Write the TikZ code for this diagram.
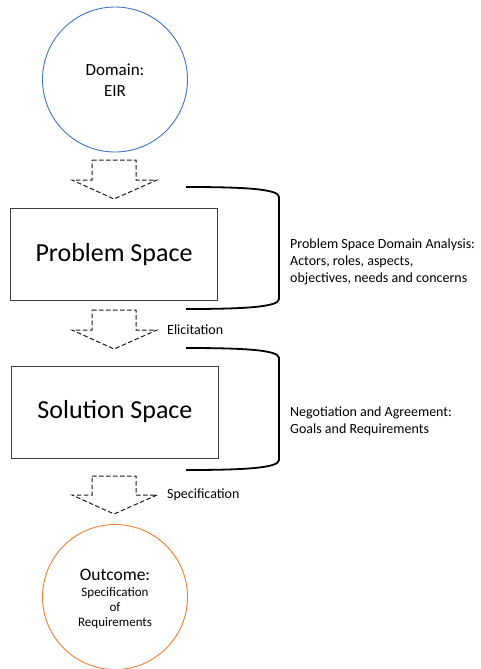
\documentclass[tikz,border=0pt]{standalone}
\usepackage{fontspec}
\setmainfont{Carlito}
\definecolor{cblue}{HTML}{4472C4}
\definecolor{corange}{HTML}{ED7D31}
\definecolor{boxgray}{HTML}{404040}
\begin{document}
\begin{tikzpicture}[x=1pt,y=-1pt,
  circ/.style={circle,draw,line width=0.9pt,minimum size=145pt,inner sep=0pt},
  ctext/.style={inner sep=0pt,align=center},
  spacebox/.style={draw=boxgray,line width=0.9pt,minimum width=207pt,minimum height=92pt,font=\fontsize{26}{30}\selectfont},
  blockarrow/.style={draw=black!90,line width=1pt,dash pattern=on 4.5pt off 2.5pt},
  bracket/.style={draw=black,line width=1.8pt},
  lbl/.style={anchor=west,inner sep=0pt,align=left,font=\fontsize{14}{17}\selectfont}]
\useasboundingbox (0,0) rectangle (481,669);
% top circle
\node[circ,draw=cblue] (dom) at (115,79.5) {};
\node[ctext,font=\fontsize{17}{21}\selectfont] (domt) at (115,80.5) {Domain:\\EIR};
% boxes
\node[spacebox] (ps) at (114,254.5) {Problem Space};
\node[spacebox] (ss) at (115,412) {Solution Space};
% bottom circle
\node[circ,draw=corange] (out) at (115,597) {};
\node[ctext,font=\fontsize{17.5}{21}\selectfont] (outt) at (115,575) {Outcome:};
\node[ctext,font=\fontsize{13}{15}\selectfont] (outs) at (115,608.5) {Specification\\of\\Requirements};
% block arrows
\coordinate (a1) at (114,160);
\coordinate (a2) at (114,310);
\coordinate (a3) at (114,476);
\draw[blockarrow] (a1) ++(-22,0) -- ++(44,0) -- ++(0,20) -- ++(21,0) -- ++(-43,19) -- ++(-42,-19) -- ++(20,0) -- cycle;
\draw[blockarrow] (a2) ++(-22,0) -- ++(44,0) -- ++(0,20) -- ++(21,0) -- ++(-43,19) -- ++(-42,-19) -- ++(20,0) -- cycle;
\draw[blockarrow] (a3) ++(-22,0) -- ++(44,0) -- ++(0,19) -- ++(21,0) -- ++(-43,19) -- ++(-42,-19) -- ++(20,0) -- cycle;
% labels next to arrows
\node[lbl] (eli) at (167,330) {Elicitation};
\node[lbl] (spec) at (167,495) {Specification};
% brackets
\coordinate (b1t) at (186,187);
\coordinate (b1b) at (186,309);
\coordinate (b2t) at (186,348);
\coordinate (b2b) at (186,470);
\draw[bracket] (b1t) .. controls (245,187) and (279,189) .. (279,197) -- (279,299) .. controls (279,307) and (245,309) .. (b1b);
\draw[bracket] (b2t) .. controls (245,348) and (279,350) .. (279,358) -- (279,460) .. controls (279,468) and (245,470) .. (b2b);
% bracket texts
\node[lbl] (t1) at (290,262) {Problem Space Domain Analysis:\\Actors, roles, aspects,\\objectives, needs and concerns};
\node[lbl] (t2) at (290,421.5) {Negotiation and Agreement:\\Goals and Requirements};
\end{tikzpicture}
\end{document}
